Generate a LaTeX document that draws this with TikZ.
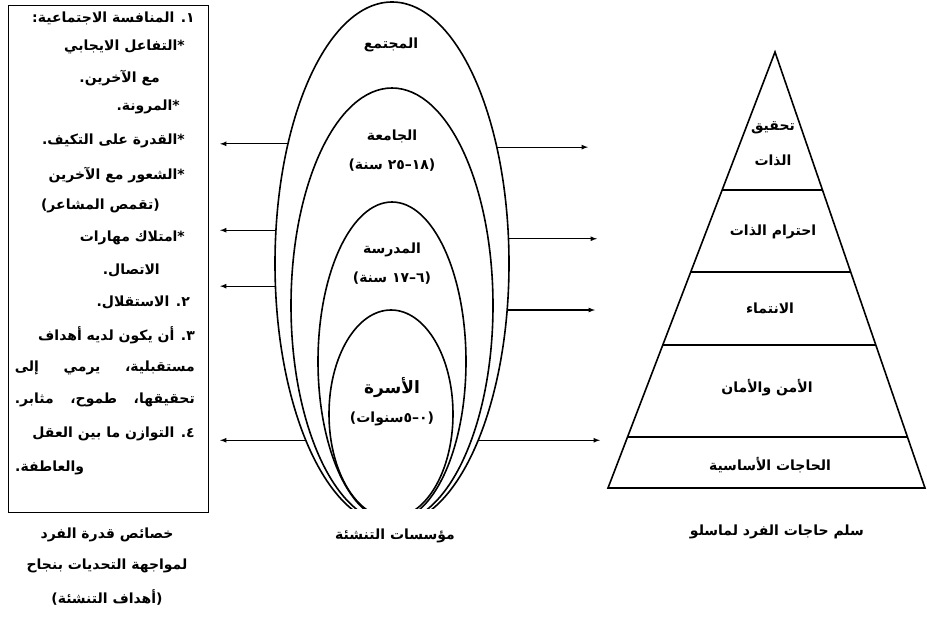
\documentclass[tikz,border=0pt]{standalone}
\usepackage{fontspec}
\newfontfamily\arabicfont[Script=Arabic]{DejaVu Sans}
\TeXXeTstate=1
\usetikzlibrary{shapes,arrows}
\usetikzlibrary{calc}

\begin{document}
\begin{tikzpicture}[x=1pt,y=-1pt]
\tikzstyle{txt}=[font=\arabicfont\bfseries\fontsize{14}{16}\selectfont,inner sep=0pt]
\tikzstyle{bigtxt}=[font=\arabicfont\bfseries\fontsize{17}{19}\selectfont,inner sep=0pt]
\tikzstyle{oval}=[draw,ellipse,line width=1.6pt,inner sep=0pt,outer sep=0pt]
\tikzstyle{arr}=[draw,line width=1.2pt,-latex]
\tikzstyle{pyr}=[draw,line width=1.6pt,line join=miter]
\tikzstyle{tier}=[draw,line width=2.4pt]
\useasboundingbox (0,0) rectangle (927,621);
% left box: aims of socialisation
\node[draw,line width=1.2pt,minimum width=200pt,minimum height=507pt,anchor=north west,inner sep=0pt] (box) at (8,5) {};
\node[txt,anchor=east] (l1) at (195,18) {\beginR ١. المنافسة الاجتماعية:\endR};
\node[txt,anchor=east] (l2) at (185,47) {\beginR *التفاعل الايجابي\endR};
\node[txt,anchor=east] (l3) at (160,78) {\beginR مع الآخرين.\endR};
\node[txt,anchor=east] (l4) at (180,107) {\beginR *المرونة.\endR};
\node[txt,anchor=east] (l5) at (185,141) {\beginR *القدرة على التكيف.\endR};
\node[txt,anchor=east] (l6) at (185,175) {\beginR *الشعور مع الآخرين\endR};
\node[txt,anchor=east] (l7) at (160,206) {\beginR (تقمص المشاعر)\endR};
\node[txt,anchor=east] (l8) at (185,238) {\beginR *امتلاك مهارات\endR};
\node[txt,anchor=east] (l9) at (160,270) {\beginR الاتصال.\endR};
\node[txt,anchor=east] (l10) at (190,302) {\beginR ٢. الاستقلال.\endR};
\node[txt,anchor=east] (l11) at (195,335) {\beginR ٣. أن يكون لديه أهداف\endR};
\node[txt,anchor=east] (l12) at (195,368) {\hbox to 180pt{\beginR مستقبلية،\hfill يرمي\hfill إلى\endR}};
\node[txt,anchor=east] (l13) at (195,400) {\hbox to 180pt{\beginR تحقيقها،\hfill طموح،\hfill مثابر.\endR}};
\node[txt,anchor=east] (l14) at (195,434) {\beginR ٤. التوازن ما بين العقل\endR};
\node[txt,anchor=west] (l15) at (15,468) {\beginR والعاطفة.\endR};
\node[txt] (capL1) at (107,535) {\beginR خصائص قدرة الفرد\endR};
\node[txt] (capL2) at (107,566) {\beginR لمواجهة التحديات بنجاح\endR};
\node[txt] (capL3) at (107,597) {\beginR (أهداف التنشئة)\endR};
% nested ovals, cut at the bottom
\begin{scope}
\clip (250,-10) rectangle (560,508);
\node[oval,minimum width=234pt,minimum height=523pt] (soc) at (392,263.5) {};
\node[oval,minimum width=202pt,minimum height=435pt] (uni) at (392,305.5) {};
\node[oval,minimum width=148pt,minimum height=319pt] (sch) at (392,361.5) {};
\node[oval,minimum width=124pt,minimum height=208pt] (fam) at (391,414) {};
\end{scope}
\node[txt] (socT) at (391,45) {\beginR المجتمع\endR};
\node[txt] (uniT) at (392,136) {\beginR الجامعة\endR};
\node[txt] (uniA) at (392,165) {\beginR (١٨–٢٥ سنة)\endR};
\node[txt] (schT) at (392,250) {\beginR المدرسة\endR};
\node[txt] (schA) at (392,278) {\beginR (٦–١٧ سنة)\endR};
\node[bigtxt] (famT) at (392,388) {\beginR الأسرة\endR};
\node[txt] (famA) at (392,419) {\beginR (٠–٥سنوات)\endR};
\node[txt] (capM) at (395,536) {\beginR مؤسسات التنشئة\endR};
% arrows out of the outer oval
\coordinate (lt) at (220,0);
\coordinate (rt1) at (588,0);
\coordinate (rt2) at (597,0);
\coordinate (rt3) at (595,0);
\coordinate (rt4) at (600,0);
\path[arr] (soc.131) -- (soc.131 -| lt);
\path[arr] (soc.164.8) -- (soc.164.8 -| lt);
\path[arr] (soc.191.4) -- (soc.191.4 -| lt);
\path[arr] (soc.244) -- (soc.244 -| lt);
\path[arr] (soc.48.3) -- (soc.48.3 -| rt1);
\path[arr] (soc.12.8) -- (soc.12.8 -| rt2);
\path[arr] (soc.-22.4) -- (soc.-22.4 -| rt3);
\path[arr] (soc.-64) -- (soc.-64 -| rt4);
% Maslow pyramid
\coordinate (apex) at (775,52);
\coordinate (bl) at (608,488);
\coordinate (br) at (925,488);
\path[pyr] (apex) -- (bl) -- (br) -- cycle;
\path[tier] (bl) -- (br);
\foreach \t in {0.3165,0.5046,0.672,0.883}
  \path[tier] ($(apex)!\t!(bl)$) -- ($(apex)!\t!(br)$);
\node[txt] (p1a) at (773,128) {\beginR تحقيق\endR};
\node[txt] (p1b) at (773,160) {\beginR الذات\endR};
\node[txt] (p2) at (773,232) {\beginR احترام الذات\endR};
\node[txt] (p3) at (770,308) {\beginR الانتماء\endR};
\node[txt] (p4) at (767,388) {\beginR الأمن والأمان\endR};
\node[txt] (p5) at (770,465) {\beginR الحاجات الأساسية\endR};
\node[txt] (capR) at (777,532) {\beginR سلم حاجات الفرد لماسلو\endR};
\end{tikzpicture}
\end{document}
